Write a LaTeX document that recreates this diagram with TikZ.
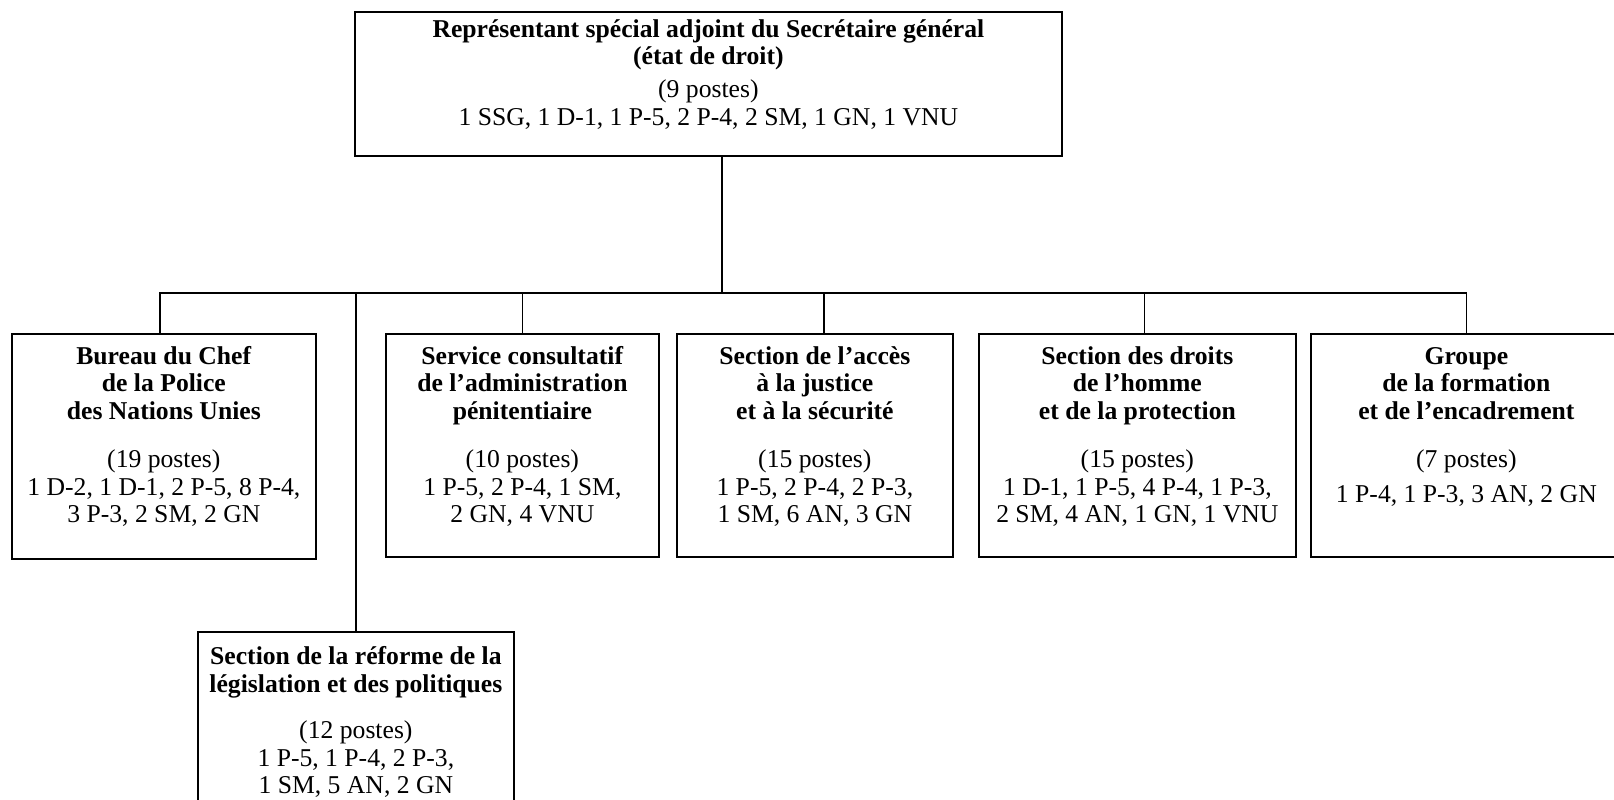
\documentclass[tikz,border=0pt]{standalone}
\usepackage{fontspec}
\setmainfont{Liberation Serif}
\newcommand{\boxtext}[4]{\parbox[c][#2][t]{#1}{\centering\vspace*{#3}\strut #4}}

\begin{document}
\begin{tikzpicture}[
		unit/.style={draw, line width=1pt, inner sep=0pt, anchor=north west, font=\fontsize{14.6}{15.6}\selectfont},
		link/.style={line width=1pt}]
		%%%%% START %%%%%
		\useasboundingbox (0,0) rectangle (32.28,-15.98);
		
		\node[unit] (rssg) at (7.08,-0.22) {\boxtext{14.14cm}{2.88cm}{0.13cm}{\textbf{Représentant spécial adjoint du Secrétaire général}\\\textbf{(état de droit)}\\[3pt](9 postes)\\1 SSG, 1 D-1, 1 P-5, 2 P-4, 2 SM, 1 GN, 1 VNU}};
		
		\node[unit] (police) at (0.22,-6.66) {\boxtext{6.08cm}{4.5cm}{0.23cm}{\textbf{Bureau du Chef}\\\textbf{de la Police}\\\textbf{des Nations Unies}\\[12pt](19 postes)\\1 D-2, 1 D-1, 2 P-5, 8 P-4,\\3 P-3, 2 SM, 2 GN}};
		\node[unit] (penit) at (7.70,-6.66) {\boxtext{5.46cm}{4.46cm}{0.23cm}{\textbf{Service consultatif}\\\textbf{de l’administration}\\\textbf{pénitentiaire}\\[12pt](10 postes)\\1 P-5, 2 P-4, 1 SM,\\2 GN, 4 VNU}};
		\node[unit] (justice) at (13.52,-6.66) {\boxtext{5.52cm}{4.46cm}{0.23cm}{\textbf{Section de l’accès}\\\textbf{à la justice}\\\textbf{et à la sécurité}\\[12pt](15 postes)\\1 P-5, 2 P-4, 2 P-3,\\1 SM, 6 AN, 3 GN}};
		\node[unit] (droits) at (19.56,-6.66) {\boxtext{6.34cm}{4.46cm}{0.23cm}{\textbf{Section des droits}\\\textbf{de l’homme}\\\textbf{et de la protection}\\[12pt](15 postes)\\1 D-1, 1 P-5, 4 P-4, 1 P-3,\\2 SM, 4 AN, 1 GN, 1 VNU}};
		\node[unit] (formation) at (26.20,-6.66) {\boxtext{6.22cm}{4.46cm}{0.23cm}{\textbf{Groupe}\\\textbf{de la formation}\\\textbf{et de l’encadrement}\\[12pt](7 postes)\\[4pt]1 P-4, 1 P-3, 3 AN, 2 GN}};
		
		\node[unit] (reforme) at (3.94,-12.62) {\boxtext{6.32cm}{3.6cm}{0.27cm}{\textbf{Section de la réforme de la}\\\textbf{législation et des politiques}\\[11pt](12 postes)\\1 P-5, 1 P-4, 2 P-3,\\1 SM, 5 AN, 2 GN}};
		
		\coordinate (bus) at (14.44,-5.86);
		\draw[link] (rssg.south -| bus) -- (bus);
		\draw[link] ([xshift=-0.08cm]police.north) |- (bus);
		\draw[link] (reforme.north) |- (bus);
		\draw[link] (penit.north) |- (bus);
		\draw[link] ([xshift=0.18cm]justice.north) |- (bus);
		\draw[link] ([xshift=0.14cm]droits.north) |- (bus);
		\draw[link] (formation.north) |- (bus);
		%%%%% END %%%%%
	\end{tikzpicture}
\end{document}
